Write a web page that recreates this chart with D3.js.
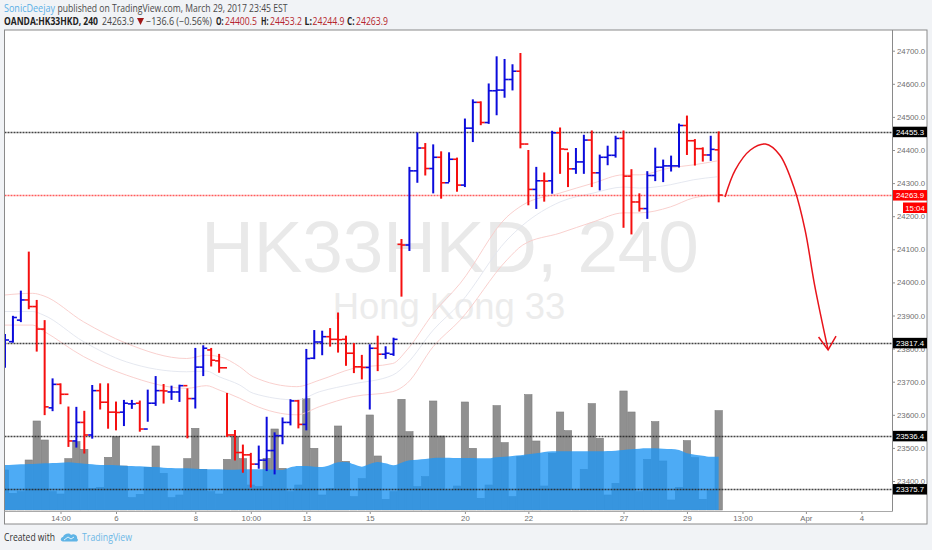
<!DOCTYPE html>
<html><head><meta charset="utf-8">
<script src="https://cdn.jsdelivr.net/npm/d3@7/dist/d3.min.js"></script>
<style>html,body{margin:0;padding:0;background:#f1f3f6;overflow:hidden}svg{display:block}</style>
</head><body><svg id="c" width="932" height="550"></svg>
<script>
const opens=[23786,23821,23886,23947,23927,23859,23621,23692,23662,23521,23577,23539,23673,23638,23608,23608,23633,23635,23557,23635,23673,23669,23669,23688,23649,23744,23796,23763,23742,23539,23486,23479,23451,23463,23492,23537,23577,23642,23571,23771,23820,23836,23828,23828,23786,23745,23743,23801,23783,23783,24115,24113,24337,24406,24344,24378,24301,24372,24294,24466,24544,24483,24579,24581,24613,24638,24418,24281,24307,24307,24452,24402,24343,24364,24430,24331,24378,24384,24435,24321,24243,24223,24323,24348,24352,24352,24474,24428,24404,24385,24400.5];
const highs=[23841,23896,23972,24090,23944,23883,23707,23692,23622,23621,23609,23687,23692,23692,23637,23642,23642,23640,23673,23714,23690,23685,23688,23677,23799,23807,23799,23781,23663,23551,23507,23482,23504,23591,23544,23589,23644,23642,23796,23853,23851,23859,23906,23836,23814,23778,23810,23836,23804,23830,24128,24346,24450,24418,24414,24393,24390,24374,24492,24550,24544,24598,24680,24672,24656,24690,24397,24346,24329,24455,24465,24390,24403,24443,24456,24383,24410,24440,24456,24339,24266,24333,24404,24368,24380,24477,24501,24430,24405,24440,24453.2];
const lows=[23745,23821,23883,23922,23794,23602,23614,23635,23506,23504,23486,23531,23619,23561,23556,23569,23621,23552,23582,23630,23637,23648,23642,23532,23622,23720,23749,23730,23536,23465,23428,23383,23440,23433,23423,23514,23571,23562,23556,23771,23783,23809,23791,23751,23729,23710,23619,23735,23772,23781,23960,24098,24304,24326,24272,24256,24306,24277,24291,24427,24478,24482,24508,24561,24583,24408,24236,24225,24247,24271,24331,24291,24331,24331,24291,24281,24357,24380,24168,24148,24217,24195,24309,24306,24338,24350,24388,24356,24368,24370,24244.9];
const closes=[23826,23894,23947,23927,23859,23624,23692,23662,23521,23577,23539,23673,23638,23608,23607,23635,23633,23557,23635,23673,23672,23669,23688,23649,23744,23801,23765,23742,23539,23486,23479,23451,23463,23492,23537,23577,23642,23571,23770,23820,23836,23828,23827,23786,23745,23743,23801,23783,23786,23828,24113,24337,24406,24344,24378,24301,24372,24294,24466,24544,24483,24579,24581,24613,24638,24418,24281,24307,24306,24452,24403,24343,24364,24430,24331,24378,24384,24435,24321,24243,24223,24323,24348,24352,24352,24474,24428,24404,24385,24402,24263.9];
const volumes=[120,50,55,150,267,210,55,48,154,205,182,65,68,158,220,132,37,47,128,192,110,37,45,154,245,122,55,48,152,220,154,75,70,155,243,125,55,75,334,185,45,65,252,146,40,94,285,162,32,55,332,235,70,100,327,222,58,72,324,185,35,75,313,202,40,160,346,207,72,170,294,238,58,122,319,215,45,80,357,294,55,152,265,147,30,68,208,157,32,58,298];
const volumeMA=[135,136,137,138,139,140,141,142,143,141,139,137,135,135,134,133,132,131,130,129,127,126,125,125,124,123,122,122,121,121,122,122,122,122,121,120,128,132,132,130,129,135,143,144,137,130,138,144,140,134,142,149,151,153,156,157,157,156,156,156,155,155,158,160,162,164,167,170,174,176,176,176,176,176,176,176,177,178,180,182,184,185,185,184,183,180,170,166,163,160,160];
const bandIdx=[0,3.5,4.8,9.9,15.3,22.9,25.4,27,29.6,31.3,36.8,39.7,43.9,48.9,50.7,54,57.4,63.3,65.3,70,74.2,78,80,83.9,86.8,89.8];
const upperBand=[23962,23967,23960,23881,23816,23770,23780,23776,23745,23715,23685,23705,23740,23755,23796,23906,23997,24198,24234,24270,24300,24325,24325,24346,24355,24367];
const middleBand=[23912,23912,23902,23821,23760,23730,23732,23715,23690,23665,23645,23670,23693,23720,23755,23856,23937,24128,24173,24243,24270,24288,24285,24295,24310,24319];
const lowerBand=[23871,23871,23854,23776,23720,23680,23688,23675,23650,23630,23600,23625,23655,23670,23695,23806,23886,24068,24113,24149,24183,24210,24210,24228,24255,24264];
const levels=[24455.3,23817.4,23536.4,23375.7];
const lastPrice=24263.9;
const priceTicks=[24700,24600,24500,24400,24300,24200,24100,24000,23900,23800,23700,23600,23500,23400];
const timeTickIdx=[7,14,24,31,38,46,58,66,78,86,93,101,108];
const timeTickLabels=["14:00","6","8","10:00","13","15","20","22","27","29","13:00","Apr","4"];
const arrowIdx=[90.8,92.1,94,95.9,97.7,99.6,100.9,102.1,103.8];
const arrowPrice=[24258,24340,24400,24418,24385,24279,24158,23992,23796];
const headIdx=[102.6,103.8,104.8];
const headPrice=[23835,23796,23838];

const svg=d3.select("#c");
const F='"Liberation Sans",Arial,sans-serif', T='"Open Sans",sans-serif';
const L=4.5,R=892,TOP=30,B=511,FR=927,FB=524;
const x=d3.scaleLinear().domain([0,108]).range([5,861.4]);
const y=d3.scaleLinear().domain([23400,24700]).range([50.7+1300*0.331,50.7]);
const v=d3.scaleLinear().domain([0,300]).range([510,410]);
const bw=x(1)-x(0);

svg.append("rect").attr("x",L).attr("y",TOP).attr("width",FR-L).attr("height",FB-TOP).attr("fill","#fff").attr("stroke","#8a8a8a").attr("stroke-width",1);
svg.append("defs").append("clipPath").attr("id","pc").append("rect").attr("x",L+.5).attr("y",TOP).attr("width",R-L-.5).attr("height",B-TOP);

svg.append("text").attr("x",450).attr("y",272).attr("text-anchor","middle").attr("font-family",F).attr("font-size",72.8).attr("fill","#e9e9e9").text("HK33HKD, 240");
svg.append("text").attr("x",449).attr("y",319).attr("text-anchor","middle").attr("font-family",F).attr("font-size",36.4).attr("fill","#ececec").text("Hong Kong 33");

const g=svg.append("g").attr("clip-path","url(#pc)");
g.append("g").selectAll("rect").data(volumes).join("rect")
 .attr("x",(d,i)=>x(i)-bw/2+.3).attr("width",bw-.6).attr("y",d=>v(d)).attr("height",d=>510-v(d))
 .attr("fill","#909090").attr("stroke","#7c7c7c").attr("stroke-width",.6);
const area=d3.area().x((d,i)=>x(i)).y0(510).y1(d=>v(d)).curve(d3.curveMonotoneX);
g.append("path").datum(volumeMA).attr("d",area).attr("fill","#2196f3").attr("fill-opacity",.8);
const line=d3.line().x((d,i)=>x(bandIdx[i])).y(d=>y(d)).curve(d3.curveMonotoneX);
[[upperBand,"#f8cbc8"],[middleBand,"#e2e5ee"],[lowerBand,"#f8cbc8"]].forEach(([a,c])=>
 g.append("path").datum(a).attr("d",line).attr("fill","none").attr("stroke",c).attr("stroke-width",.9));
g.selectAll(".lv").data(levels).join("line").attr("x1",L).attr("x2",R).attr("y1",d=>Math.round(y(d))+.5).attr("y2",d=>Math.round(y(d))+.5)
 .attr("stroke","#222").attr("stroke-dasharray","2 1").attr("stroke-width",1.3).attr("stroke-opacity",.85);
g.append("line").attr("x1",L).attr("x2",R).attr("y1",Math.round(y(lastPrice))+.5).attr("y2",Math.round(y(lastPrice))+.5)
 .attr("stroke","#ff5c5c").attr("stroke-dasharray","2 1").attr("stroke-width",1.4);
const bars=g.append("g").selectAll("g").data(opens.map((o,i)=>({i,o,h:highs[i],l:lows[i],c:closes[i]}))).join("g")
 .attr("stroke",d=>d.c>=d.o?"#0b0bdc":"#f50f0f").attr("stroke-width",2).attr("fill","none");
bars.append("line").attr("x1",d=>x(d.i)).attr("x2",d=>x(d.i)).attr("y1",d=>y(d.h)-1).attr("y2",d=>y(d.l)+1);
bars.append("line").attr("x1",d=>x(d.i)-4).attr("x2",d=>x(d.i)).attr("y1",d=>y(d.o)).attr("y2",d=>y(d.o)).attr("stroke-width",1.6);
bars.append("line").attr("x1",d=>x(d.i)).attr("x2",d=>x(d.i)+4).attr("y1",d=>y(d.c)).attr("y2",d=>y(d.c)).attr("stroke-width",1.6);
const al=d3.line().x(d=>x(d[0])).y(d=>y(d[1]));
svg.append("path").attr("d",al.curve(d3.curveCatmullRom)(arrowIdx.map((d,i)=>[d,arrowPrice[i]]))).attr("fill","none").attr("stroke","#e8141b").attr("stroke-width",1.5);
svg.append("path").attr("d",al.curve(d3.curveLinear)(headIdx.map((d,i)=>[d,headPrice[i]]))).attr("fill","none").attr("stroke","#e8141b").attr("stroke-width",1.5);

const ax=svg.append("g").attr("transform",`translate(${R},0)`).call(d3.axisRight(y).tickValues(priceTicks).tickSize(3).tickPadding(2).tickFormat(d3.format(".1f")));
const ab=svg.append("g").attr("transform",`translate(0,${B})`).call(d3.axisBottom(x).tickValues(timeTickIdx).tickSize(3).tickPadding(1.5).tickFormat((d,i)=>timeTickLabels[i]));
[ax,ab].forEach(a=>{a.selectAll("text").attr("font-family",F).attr("font-size",7.8).attr("fill","#6f6f6f");a.selectAll("line").attr("stroke","#909090");a.select(".domain").remove();});
svg.append("line").attr("x1",R+.5).attr("x2",R+.5).attr("y1",TOP).attr("y2",B+.5).attr("stroke","#8a8a8a");
svg.append("line").attr("x1",L).attr("x2",R+.5).attr("y1",B+.5).attr("y2",B+.5).attr("stroke","#a9a9a9");

function tag(bg,txt,x0,yc){
 svg.append("rect").attr("x",x0).attr("y",yc-5).attr("width",927-x0).attr("height",10.5).attr("fill",bg);
 svg.append("text").attr("x",x0+(927-x0)/2).attr("y",yc+3).attr("text-anchor","middle").attr("font-family",F).attr("font-size",7.8).attr("fill","#fff").text(txt);
}
levels.forEach(p=>tag("#000",d3.format(".1f")(p),893,y(p)));
tag("#ff0000",d3.format(".1f")(lastPrice),893,y(lastPrice));
tag("#ff0000","15:04",903,207.5);

function t(s,xp,yp,c,w,fs,len){const e=svg.append("text").attr("x",xp).attr("y",yp).attr("font-family",T).attr("font-size",fs||9.6).attr("fill",c).attr("font-weight",w||400).text(s);if(len)e.attr("textLength",len).attr("lengthAdjust","spacingAndGlyphs");return e;}
t("SonicDeejay",4,12,"#5bb0e6",400,10.2,51);
t("published on TradingView.com, March 29, 2017 23:45 EST",57.5,12,"#4a4a4a",400,10.2,230);
t("OANDA:HK33HKD, 240",4,24.5,"#222",700,10,94);
t("24263.9",102,24.5,"#444",400,10,32);
svg.append("path").attr("d","M137 18h7l-3.500 7z").attr("fill","#a01818");
t("−136.6 (−0.56%)",146,24.5,"#444",400,10,66);
[["O:","24400.5",216,225],["H:","24453.2",261,270],["L:","24244.9",304.5,312.5],["C:","24263.9",347,356]].forEach(([a,b,xa,xb])=>{
 t(a,xa,24.5,"#222",700,10,7.5); t(b,xb,24.5,"#b5242c",400,10,32);
});
t("Created with",4,541,"#333",400,10.5,51);
svg.append("path").attr("d","M63 541.500c-3 0-3-4 0-4.500c1-3 6-5 8-2c3-2 7 1 6 3.500c1.500 .5 1 3-.5 3z").attr("fill","#5fb4e6");
svg.append("path").attr("d","M64 540l4-3l3 2l3-2").attr("fill","none").attr("stroke","#fff").attr("stroke-width",.8);
t("TradingView",82,541,"#6db8e6",400,10.5,50);
</script></body></html>
